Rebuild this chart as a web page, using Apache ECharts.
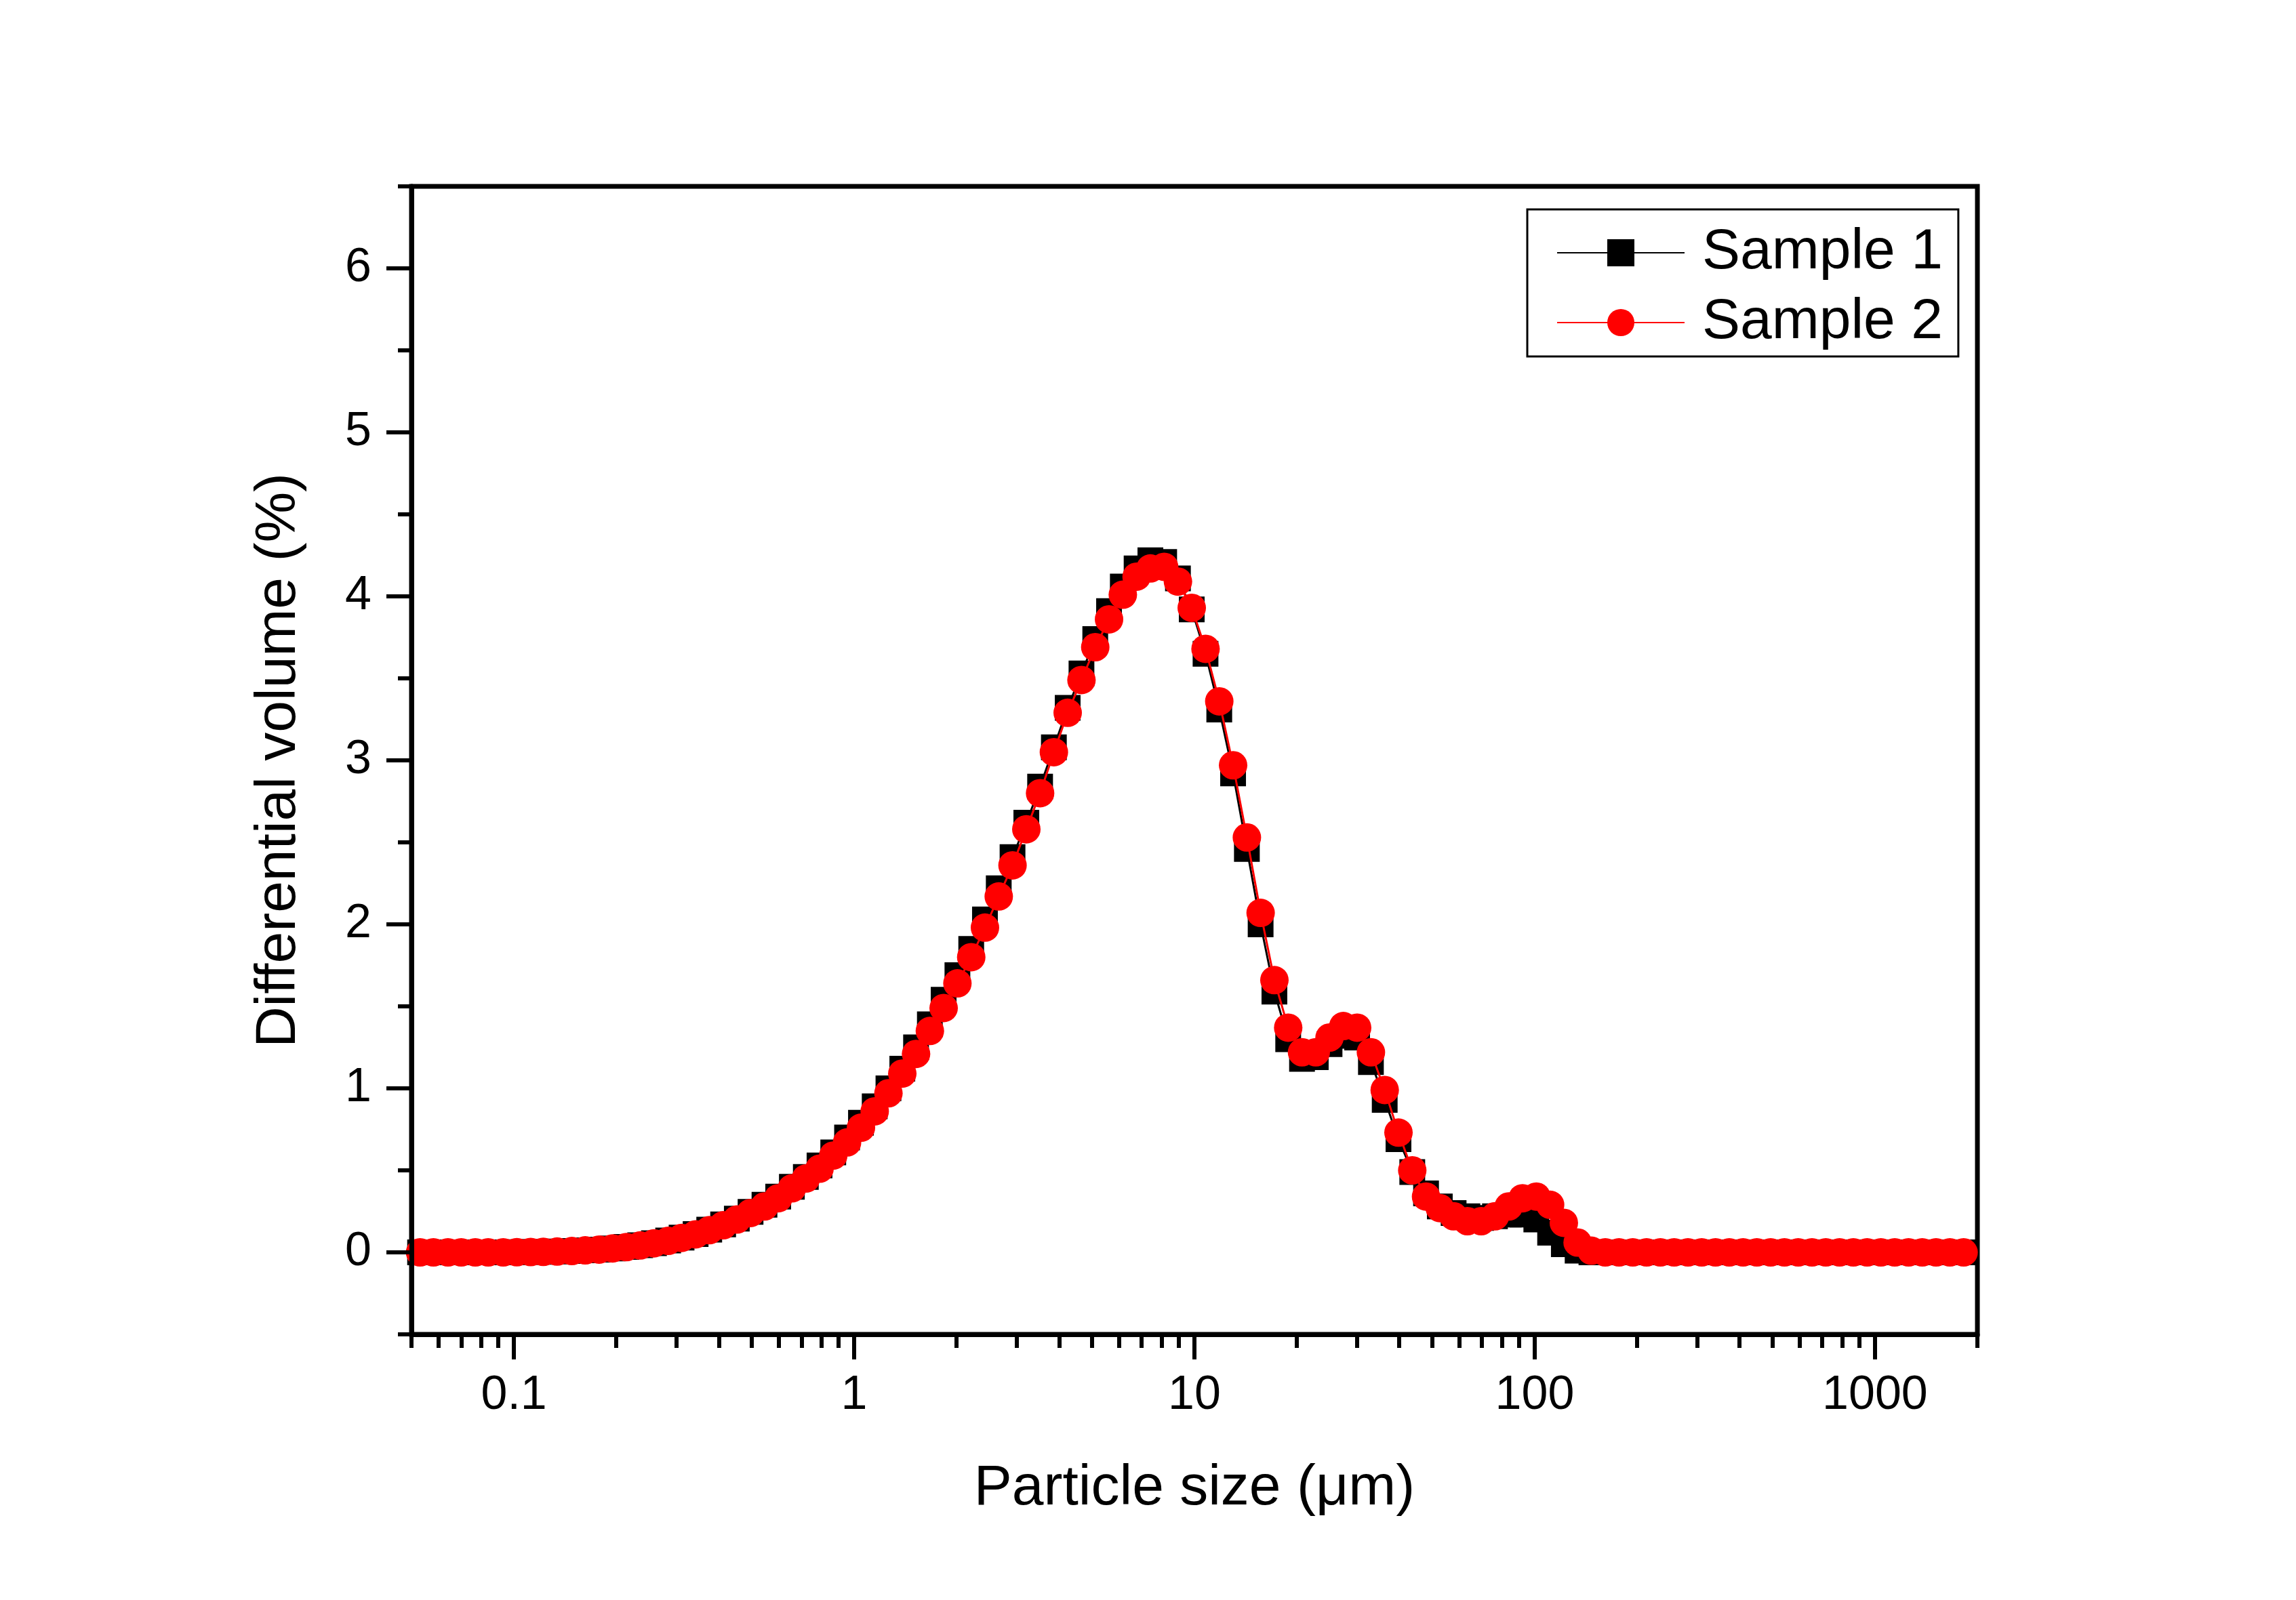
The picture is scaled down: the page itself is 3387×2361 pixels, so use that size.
<!DOCTYPE html>
<html>
<head>
<meta charset="utf-8">
<script src="https://cdn.jsdelivr.net/npm/echarts@6/dist/echarts.min.js"></script>
<style>
html,body{margin:0;padding:0;background:#ffffff;}
#chart{width:3387px;height:2361px;}
</style>
</head>
<body>
<div id="chart"></div>
<script>
// Particle size channels (um)
const sizes = [
  0.04, 0.044, 0.048, 0.053, 0.058, 0.064, 0.07, 0.077, 0.084, 0.093,
  0.102, 0.112, 0.122, 0.134, 0.148, 0.162, 0.178, 0.195, 0.214, 0.235,
  0.258, 0.284, 0.311, 0.342, 0.375, 0.412, 0.452, 0.496, 0.545, 0.598,
  0.656, 0.721, 0.791, 0.868, 0.953, 1.047, 1.149, 1.261, 1.385, 1.52,
  1.669, 1.832, 2.011, 2.208, 2.423, 2.66, 2.92, 3.206, 3.519, 3.863,
  4.241, 4.656, 5.111, 5.611, 6.159, 6.761, 7.422, 8.148, 8.944, 9.819,
  10.78, 11.83, 12.99, 14.26, 15.65, 17.18, 18.86, 20.71, 22.73, 24.95,
  27.39, 30.07, 33.01, 36.24, 39.78, 43.67, 47.94, 52.62, 57.77, 63.42,
  69.62, 76.43, 83.9, 92.1, 101.1, 111, 121.8, 133.7, 146.8, 161.2,
  176.9, 194.2, 213.2, 234.1, 256.9, 282.1, 309.6, 339.9, 373.1, 409.6,
  449.7, 493.6, 541.9, 594.9, 653, 716.9, 786.9, 863.9, 948.3, 1041,
  1143, 1255, 1377, 1512, 1660, 1822
];

// Differential volume (%) - Sample 1
const sample1 = [
  0, 0, 0, 0, 0, 0, 0, 0, 0, 0,
  0.001, 0.002, 0.003, 0.005, 0.008, 0.012, 0.017, 0.024, 0.033, 0.043,
  0.056, 0.072, 0.09, 0.112, 0.138, 0.17, 0.206, 0.247, 0.29, 0.34,
  0.40, 0.46, 0.53, 0.61, 0.70, 0.79, 0.89, 1.00, 1.12, 1.25,
  1.39, 1.54, 1.69, 1.85, 2.03, 2.22, 2.41, 2.62, 2.84, 3.08,
  3.32, 3.53, 3.74, 3.91, 4.06, 4.17, 4.22, 4.21, 4.11, 3.92,
  3.65, 3.31, 2.92, 2.46, 2.00, 1.59, 1.30, 1.18, 1.19, 1.27,
  1.32, 1.31, 1.16, 0.93, 0.69, 0.49, 0.36, 0.28, 0.24, 0.22,
  0.21, 0.22, 0.23, 0.23, 0.20, 0.12, 0.05, 0.01, 0, 0,
  0, 0, 0, 0, 0, 0, 0, 0, 0, 0,
  0, 0, 0, 0, 0, 0, 0, 0, 0, 0,
  0, 0, 0, 0, 0, 0
];

// Differential volume (%) - Sample 2
const sample2 = [
  0, 0, 0, 0, 0, 0, 0, 0, 0, 0,
  0.001, 0.002, 0.003, 0.005, 0.008, 0.012, 0.017, 0.024, 0.032, 0.042,
  0.055, 0.07, 0.088, 0.11, 0.135, 0.165, 0.2, 0.24, 0.28, 0.33,
  0.39, 0.45, 0.51, 0.59, 0.67, 0.76, 0.86, 0.97, 1.09, 1.21,
  1.35, 1.49, 1.64, 1.80, 1.98, 2.17, 2.36, 2.58, 2.80, 3.05,
  3.29, 3.49, 3.69, 3.86, 4.01, 4.12, 4.17, 4.18, 4.09, 3.93,
  3.68, 3.36, 2.97, 2.53, 2.07, 1.66, 1.37, 1.22, 1.22, 1.31,
  1.38, 1.37, 1.22, 0.99, 0.73, 0.50, 0.34, 0.27, 0.22, 0.19,
  0.19, 0.22, 0.28, 0.33, 0.34, 0.29, 0.18, 0.06, 0.01, 0,
  0, 0, 0, 0, 0, 0, 0, 0, 0, 0,
  0, 0, 0, 0, 0, 0, 0, 0, 0, 0,
  0, 0, 0, 0, 0, 0
];

const seriesNames = ['Sample 1', 'Sample 2'];

// Tick labels / tick positions
const xMajorTicks = [0.1, 1, 10, 100, 1000];
const xMinorTicks = [
  0.05, 0.06, 0.07, 0.08, 0.09,
  0.2, 0.3, 0.4, 0.5, 0.6, 0.7, 0.8, 0.9,
  2, 3, 4, 5, 6, 7, 8, 9,
  20, 30, 40, 50, 60, 70, 80, 90,
  200, 300, 400, 500, 600, 700, 800, 900,
  2000
];
const yMajorTicks = [0, 1, 2, 3, 4, 5, 6];
const yMinorTicks = [-0.5, 0.5, 1.5, 2.5, 3.5, 4.5, 5.5, 6.5];

const FONT = '"Liberation Sans", Arial, Helvetica, sans-serif';

const chart = echarts.init(document.getElementById('chart'), null, {renderer: 'canvas'});

function fmtNum(v) { return String(+Number(v).toPrecision(6)); }

const option = {
  backgroundColor: '#ffffff',
  animation: false,
  grid: {
    left: 607, top: 275, width: 2310, height: 1694,
    show: true, borderColor: '#000', borderWidth: 7, backgroundColor: 'transparent'
  },
  legend: {
    orient: 'vertical',
    left: 2253, top: 309,
    padding: [22, 23, 8, 43],
    itemWidth: 188, itemHeight: 50, itemGap: 19,
    borderColor: '#000', borderWidth: 3, backgroundColor: '#fff',
    textStyle: {fontSize: 84, fontFamily: FONT, color: '#000', lineHeight: 68, padding: [16, 0, 0, 21]},
    data: seriesNames
  },
  xAxis: [
    {
      type: 'log', logBase: 10, min: 0.05, max: 2000, position: 'bottom', z: 10,
      name: 'Particle size (\u03bcm)', nameLocation: 'middle', nameGap: 186,
      nameTextStyle: {fontSize: 84, fontFamily: FONT, color: '#000'},
      axisLine: {show: true, onZero: false, lineStyle: {color: '#000', width: 7}},
      axisTick: {show: true, inside: false, length: 37, customValues: xMajorTicks, lineStyle: {color: '#000', width: 6}},
      axisLabel: {show: true, customValues: xMajorTicks, margin: 56, fontSize: 70, fontFamily: FONT, color: '#000', formatter: fmtNum},
      splitLine: {show: false}, minorTick: {show: false}, minorSplitLine: {show: false}
    },
    {
      type: 'log', logBase: 10, min: 0.05, max: 2000, position: 'bottom', z: 10,
      axisLine: {show: false, onZero: false},
      axisTick: {show: true, inside: false, length: 20, customValues: xMinorTicks, lineStyle: {color: '#000', width: 6}},
      axisLabel: {show: false},
      splitLine: {show: false}
    }
  ],
  yAxis: [
    {
      type: 'value', min: -0.5, max: 6.5, interval: 0.5, position: 'left', z: 10,
      name: 'Differential volume (%)', nameLocation: 'middle', nameGap: 153, nameRotate: 90,
      nameTextStyle: {fontSize: 84, fontFamily: FONT, color: '#000'},
      axisLine: {show: true, onZero: false, lineStyle: {color: '#000', width: 7}},
      axisTick: {show: true, inside: false, length: 37, customValues: yMajorTicks, lineStyle: {color: '#000', width: 6}},
      axisLabel: {show: true, customValues: yMajorTicks, margin: 59, fontSize: 70, fontFamily: FONT, color: '#000', formatter: fmtNum},
      splitLine: {show: false}
    },
    {
      type: 'value', min: -0.5, max: 6.5, interval: 0.5, position: 'left', z: 10,
      axisLine: {show: false, onZero: false},
      axisTick: {show: true, inside: false, length: 20, customValues: yMinorTicks, lineStyle: {color: '#000', width: 6}},
      axisLabel: {show: false},
      splitLine: {show: false}
    }
  ],
  series: [
    {
      name: seriesNames[0], type: 'line', xAxisIndex: 0, yAxisIndex: 0,
      data: sizes.map((s, i) => [s, sample1[i]]),
      symbol: 'rect', symbolSize: 38, z: 2,
      itemStyle: {color: '#000000'},
      lineStyle: {color: '#000000', width: 3},
      emphasis: {disabled: true}, silent: true
    },
    {
      name: seriesNames[1], type: 'line', xAxisIndex: 0, yAxisIndex: 0,
      data: sizes.map((s, i) => [s, sample2[i]]),
      symbol: 'circle', symbolSize: 42, z: 3,
      itemStyle: {color: '#ff0000'},
      lineStyle: {color: '#ff0000', width: 3},
      emphasis: {disabled: true}, silent: true
    }
  ]
};

chart.setOption(option);
</script>
</body>
</html>
